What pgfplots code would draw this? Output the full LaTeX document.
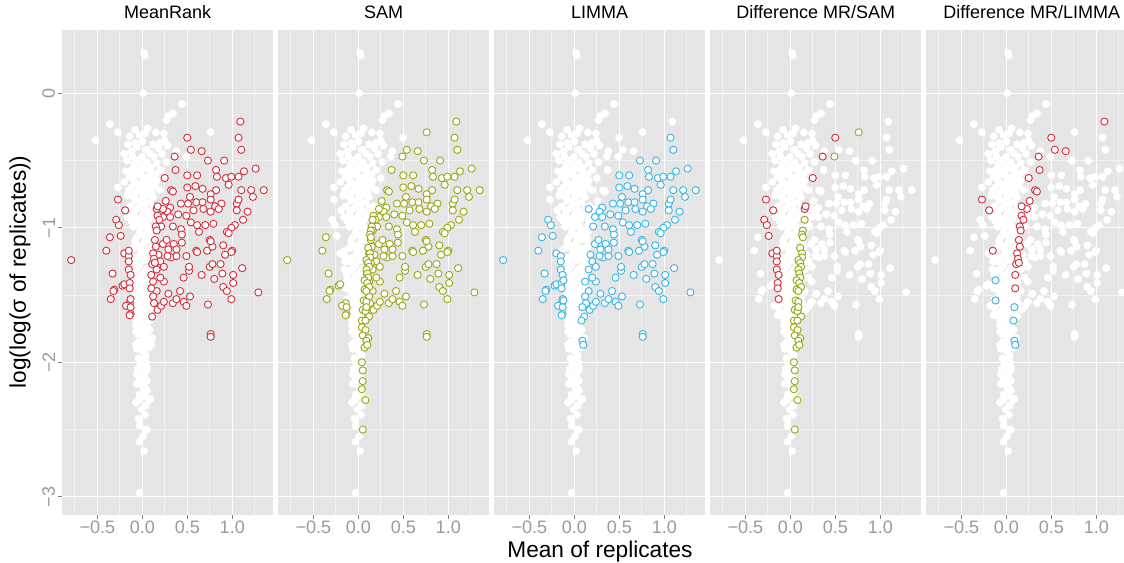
\documentclass[border=0pt]{standalone}
\usepackage{fontspec}
\setmainfont{Liberation Sans}
\usepackage{pgfplots}
\usepackage{pgfplotstable}
\pgfplotsset{compat=1.18}
\definecolor{panelbg}{HTML}{E5E5E5}
\definecolor{minorgrid}{HTML}{F2F2F2}
\definecolor{tickcol}{HTML}{999999}
\definecolor{tickmark}{HTML}{7F7F7F}
\definecolor{cred}{HTML}{D5303E}
\definecolor{colive}{HTML}{9AA818}
\definecolor{cblue}{HTML}{3BB4E6}

\pgfplotstableread{
x y
0.02 0.30
0.03 0.28
0.01 0.00
0.44 -0.08
0.34 -0.15
0.29 -0.17
0.27 -0.20
-0.36 -0.23
-0.27 -0.29
-0.52 -0.35
0.24 -0.30
-0.08 -0.27
0.06 -0.26
0.15 -0.29
-0.14 -0.32
-0.03 -0.31
0.03 -0.30
-0.08 -0.37
-0.16 -0.38
0.12 -0.38
0.20 -0.37
0.25 -0.35
0.28 -0.39
0.38 -0.43
0.09 -0.45
-0.12 -0.43
-0.17 -0.50
-0.06 -0.50
0.05 -0.51
0.16 -0.52
0.27 -0.51
-0.12 -0.57
-0.03 -0.57
0.09 -0.58
0.20 -0.57
-0.14 -0.62
0.01 -0.65
0.16 -0.65
-0.27 -0.70
-0.12 -0.70
-0.03 -0.70
0.09 -0.72
0.20 -0.72
-0.10 -0.77
0.01 -0.77
0.12 -0.77
-0.14 -0.84
-0.03 -0.84
0.05 -0.87
-0.12 -0.92
-0.01 -0.93
0.07 -0.94
-0.10 -0.99
0.01 -0.99
0.09 -1.02
-0.06 -1.07
0.03 -1.07
-0.06 -0.40
0.05 -0.42
0.00 -0.47
-0.09 -0.53
0.10 -0.55
-0.05 -0.60
0.05 -0.63
-0.08 -0.66
0.12 -0.68
0.04 -0.70
-0.07 -0.74
0.06 -0.75
-0.04 -0.80
0.08 -0.81
-0.09 -0.88
0.02 -0.89
-0.05 -0.96
0.04 -0.97
-0.03 -1.03
0.06 -1.04
0.15 -0.60
0.22 -0.45
0.18 -0.41
-0.20 -0.45
-0.18 -0.58
-0.20 -0.66
-0.17 -0.76
-0.16 -0.92
0.00 -0.36
-0.11 -0.47
0.13 -0.47
-0.01 -0.53
0.04 -0.56
-0.08 -0.59
0.11 -0.62
-0.01 -0.61
-0.10 -0.64
0.07 -0.66
-0.05 -0.68
0.15 -0.70
-0.15 -0.72
-0.01 -0.73
0.10 -0.74
-0.08 -0.80
0.03 -0.82
0.13 -0.85
-0.06 -0.86
-0.12 -0.95
0.09 -0.90
0.00 -0.91
-0.07 -0.93
0.06 -0.99
-0.03 -0.98
-0.08 -1.10
0.02 -1.12
0.07 -1.09
-0.10 -1.15
-0.02 -1.17
0.06 -1.18
-0.07 -1.22
0.03 -1.24
-0.04 -1.28
0.06 -1.30
-0.08 -1.32
0.01 -1.34
-0.05 -1.38
0.04 -1.40
-0.09 -1.43
0.00 -1.45
0.06 -1.48
-0.05 -1.50
0.02 -1.53
-0.08 -1.56
0.05 -1.57
-0.02 -1.60
-0.07 -1.63
0.03 -1.64
-0.04 -1.68
0.05 -1.70
-0.07 -1.72
0.00 -1.74
0.04 -1.77
-0.05 -1.79
0.02 -1.82
-0.04 -1.85
0.03 -1.88
-0.06 -1.90
0.01 -1.92
0.04 -1.95
-0.04 -1.97
0.00 -2.00
0.05 -2.03
-0.05 -2.05
0.02 -2.08
-0.03 -2.11
0.04 -2.14
-0.06 -2.16
0.01 -2.19
0.05 -2.21
-0.03 -2.24
-0.07 -2.30
0.09 -2.27
-0.01 -2.35
0.03 -2.39
-0.04 -2.42
-0.03 -2.47
0.04 -2.50
0.01 -2.55
-0.03 -2.59
0.02 -2.66
-0.03 -2.97
-0.01 -1.05
-0.05 -1.13
0.04 -1.15
-0.01 -1.20
-0.10 -1.25
0.07 -1.22
-0.02 -1.26
-0.06 -1.30
0.03 -1.32
-0.03 -1.36
0.07 -1.37
-0.08 -1.40
0.01 -1.41
-0.03 -1.44
0.04 -1.46
-0.08 -1.48
-0.01 -1.49
0.05 -1.52
-0.05 -1.54
0.00 -1.57
-0.04 -1.61
0.06 -1.62
0.00 -1.66
-0.08 -1.67
0.02 -1.71
-0.03 -1.75
0.06 -1.74
-0.07 -1.77
0.01 -1.79
-0.02 -1.86
0.05 -1.84
-0.07 -1.87
0.00 -1.90
0.03 -1.98
-0.02 -2.02
-0.06 -2.09
0.03 -2.12
-0.01 -2.15
0.02 -2.25
-0.04 -2.28
0.04 -2.32
}\bgdata

% MeanRank points also in SAM and LIMMA
\pgfplotstableread{
x y
1.07 -0.33
1.10 -0.42
0.73 -0.50
0.91 -0.50
0.82 -0.57
1.26 -0.56
1.13 -0.58
0.50 -0.61
0.61 -0.61
0.83 -0.62
0.93 -0.63
0.99 -0.62
1.07 -0.62
0.96 -0.68
0.50 -0.70
0.59 -0.69
0.67 -0.71
0.82 -0.72
1.10 -0.72
1.21 -0.72
1.35 -0.72
1.23 -0.77
0.76 -0.75
0.53 -0.77
0.31 -0.85
0.43 -0.82
0.51 -0.82
0.60 -0.81
0.67 -0.81
0.76 -0.79
0.81 -0.84
0.88 -0.82
1.05 -0.82
1.07 -0.79
0.28 -0.88
0.40 -0.90
0.49 -0.91
0.57 -0.87
0.68 -0.86
0.76 -0.88
0.85 -0.86
1.05 -0.87
1.17 -0.88
1.12 -0.94
0.23 -0.92
0.31 -0.92
0.54 -0.96
0.61 -0.98
0.70 -0.98
0.79 -0.97
1.03 -0.98
0.99 -1.00
0.94 -1.03
-0.36 -1.07
0.21 -0.99
0.34 -0.99
0.43 -1.01
0.63 -1.03
0.75 -1.09
-0.79 -1.24
-0.40 -1.17
-0.33 -1.34
-0.22 -1.43
-0.20 -1.42
-0.31 -1.46
-0.32 -1.47
-0.35 -1.53
-0.14 -1.56
-0.18 -1.58
-0.13 -1.59
-0.13 -1.64
-0.14 -1.65
0.11 -1.66
0.17 -1.61
0.21 -1.58
0.24 -1.55
0.29 -1.49
0.34 -1.56
0.38 -1.53
0.42 -1.47
0.46 -1.55
0.49 -1.58
0.53 -1.51
0.46 -1.37
0.52 -1.32
0.52 -1.29
0.66 -1.35
0.73 -1.57
0.76 -1.79
0.76 -1.81
0.80 -1.38
0.75 -1.29
0.78 -1.27
0.87 -1.27
0.89 -1.34
0.90 -1.44
0.94 -1.47
0.99 -1.53
1.01 -1.35
1.01 -1.41
1.11 -1.30
1.29 -1.48
0.72 -1.17
0.60 -1.17
0.61 -1.18
0.78 -1.14
0.90 -1.13
0.92 -1.20
1.00 -1.17
0.99 -1.18
0.76 -1.10
0.96 -1.04
0.44 -1.05
0.32 -1.22
0.49 -1.21
0.38 -1.21
0.28 -1.21
0.18 -1.20
0.16 -1.47
0.24 -1.40
0.20 -1.37
0.12 -1.40
0.23 -1.12
0.27 -1.09
0.35 -1.12
0.38 -1.16
0.44 -1.11
0.29 -1.16
0.20 -1.25
0.24 -1.29
0.16 -1.31
0.12 -1.51
0.13 -1.56
}\mrboth

% MeanRank, not SAM, in LIMMA
\pgfplotstableread{
x y
0.16 -0.86
-0.29 -0.94
-0.26 -0.98
-0.24 -1.06
-0.20 -1.19
-0.15 -1.21
-0.15 -1.25
-0.15 -1.31
-0.13 -1.35
-0.14 -1.41
-0.14 -1.45
-0.13 -1.53
}\mrns

% MeanRank, not LIMMA, in SAM
\pgfplotstableread{
x y
1.09 -0.21
0.54 -0.42
0.66 -0.43
0.37 -0.57
0.32 -0.72
0.34 -0.73
0.26 -0.80
0.23 -0.86
0.17 -0.91
0.19 -0.94
0.15 -0.99
0.16 -1.02
0.14 -1.09
0.15 -1.14
0.12 -1.19
0.13 -1.23
0.11 -1.27
0.14 -1.26
0.10 -1.35
0.10 -1.45
}\mrnl

% MeanRank only
\pgfplotstableread{
x y
0.50 -0.33
0.36 -0.47
0.25 -0.63
-0.27 -0.79
-0.19 -0.87
0.17 -0.84
-0.15 -1.17
}\mrn

% SAM only
\pgfplotstableread{
x y
0.76 -0.29
0.49 -0.47
0.16 -0.94
0.14 -1.02
0.13 -1.05
0.14 -1.07
0.11 -1.15
0.13 -1.19
0.13 -1.22
0.09 -1.24
0.11 -1.26
0.12 -1.29
0.09 -1.31
0.10 -1.34
0.11 -1.37
0.07 -1.39
0.10 -1.41
0.12 -1.44
0.07 -1.46
0.09 -1.47
0.06 -1.54
0.09 -1.55
0.05 -1.61
0.08 -1.62
0.12 -1.66
0.04 -1.69
0.04 -1.74
0.08 -1.76
0.05 -1.80
0.11 -1.82
0.07 -1.89
0.04 -2.00
0.05 -2.06
0.05 -2.14
0.04 -2.20
0.08 -2.28
0.05 -2.50
}\samo

% SAM and LIMMA, not MeanRank
\pgfplotstableread{
x y
0.09 -1.59
0.08 -1.69
0.09 -1.84
0.10 -1.87
}\saml

% LIMMA only
\pgfplotstableread{
x y
-0.12 -1.39
-0.12 -1.54
}\limo

\pgfplotsset{
  wpt/.style={only marks, mark=*, color=white, mark size=2.85pt,
    mark options={draw=white, fill=white, line width=0.1pt}},
  cpt/.style={only marks, mark=*, color=#1, mark size=2.7pt,
    mark options={draw=#1, fill=white, line width=0.7pt}},
  panel/.style={
    at={(#1,35.475pt)}, anchor=south west, scale only axis,
    width=158.6pt, height=363.5pt,
    xmin=-0.892, xmax=1.458, ymin=-3.133, ymax=0.4706,
    axis background/.style={fill=panelbg},
    axis line style={draw=none},
    xtick={-0.5,0,0.5,1}, xticklabels={−0.5,0.0,0.5,1.0},
    minor xtick={-0.75,-0.25,0.25,0.75,1.25},
    ytick={-3,-2,-1,0}, minor ytick={-2.5,-1.5,-0.5},
    grid=both,
    major grid style={white, line width=0.8pt},
    minor grid style={minorgrid, line width=0.5pt},
    tick align=outside, xtick pos=left, ytick pos=left,
    major tick length=3pt, minor tick length=0pt,
    tick style={tickmark, line width=0.6pt},
    ticklabel style={font=\fontsize{13.5}{16}\selectfont, text=tickcol},
    xticklabel style={inner sep=1.5pt},
    title style={at={(0.5,1)}, anchor=base, yshift=3pt, inner sep=0pt,
      font=\fontsize{13.5}{16}\selectfont},
    clip=false,
  },
  noy/.style={yticklabels={}, ytick style={draw=none}},
}

\newcommand\allwhite{%
  \addplot[wpt] table {\bgdata};
  \addplot[wpt] table {\mrboth};
  \addplot[wpt] table {\mrns};
  \addplot[wpt] table {\mrnl};
  \addplot[wpt] table {\mrn};
  \addplot[wpt] table {\samo};
  \addplot[wpt] table {\saml};
  \addplot[wpt] table {\limo};
}

\begin{document}
\begin{tikzpicture}
\useasboundingbox (0pt,0pt) rectangle (843pt,421.5pt);

\begin{axis}[panel=46.5pt, title={MeanRank},
  yticklabels={−3,−2,−1,0},
  yticklabel style={rotate=90, anchor=south, inner sep=2pt}]
  \allwhite
  \addplot[cpt=cred] table {\mrboth};
  \addplot[cpt=cred] table {\mrns};
  \addplot[cpt=cred] table {\mrnl};
  \addplot[cpt=cred] table {\mrn};
\end{axis}

\begin{axis}[panel=208.5pt, title={SAM}, noy]
  \allwhite
  \addplot[cpt=colive] table {\mrboth};
  \addplot[cpt=colive] table {\mrnl};
  \addplot[cpt=colive] table {\samo};
  \addplot[cpt=colive] table {\saml};
\end{axis}

\begin{axis}[panel=370.5pt, title={LIMMA}, noy]
  \allwhite
  \addplot[cpt=cblue] table {\mrboth};
  \addplot[cpt=cblue] table {\mrns};
  \addplot[cpt=cblue] table {\saml};
  \addplot[cpt=cblue] table {\limo};
\end{axis}

\begin{axis}[panel=532.5pt, title={Difference MR/SAM}, noy]
  \allwhite
  \addplot[cpt=cred] table {\mrns};
  \addplot[cpt=cred] table {\mrn};
  \addplot[cpt=colive] table {\samo};
  \addplot[cpt=colive] table {\saml};
\end{axis}

\begin{axis}[panel=694.5pt, title={Difference MR/LIMMA}, noy]
  \allwhite
  \addplot[cpt=cred] table {\mrnl};
  \addplot[cpt=cred] table {\mrn};
  \addplot[cpt=cblue] table {\saml};
  \addplot[cpt=cblue] table {\limo};
\end{axis}

\node[anchor=base, font=\fontsize{17}{20}\selectfont] at (450pt,3.75pt) {Mean of replicates};
\node[rotate=90, anchor=center, font=\fontsize{17}{20}\selectfont] at (15pt,217.5pt) {log(log(σ of replicates))};
\end{tikzpicture}
\end{document}
